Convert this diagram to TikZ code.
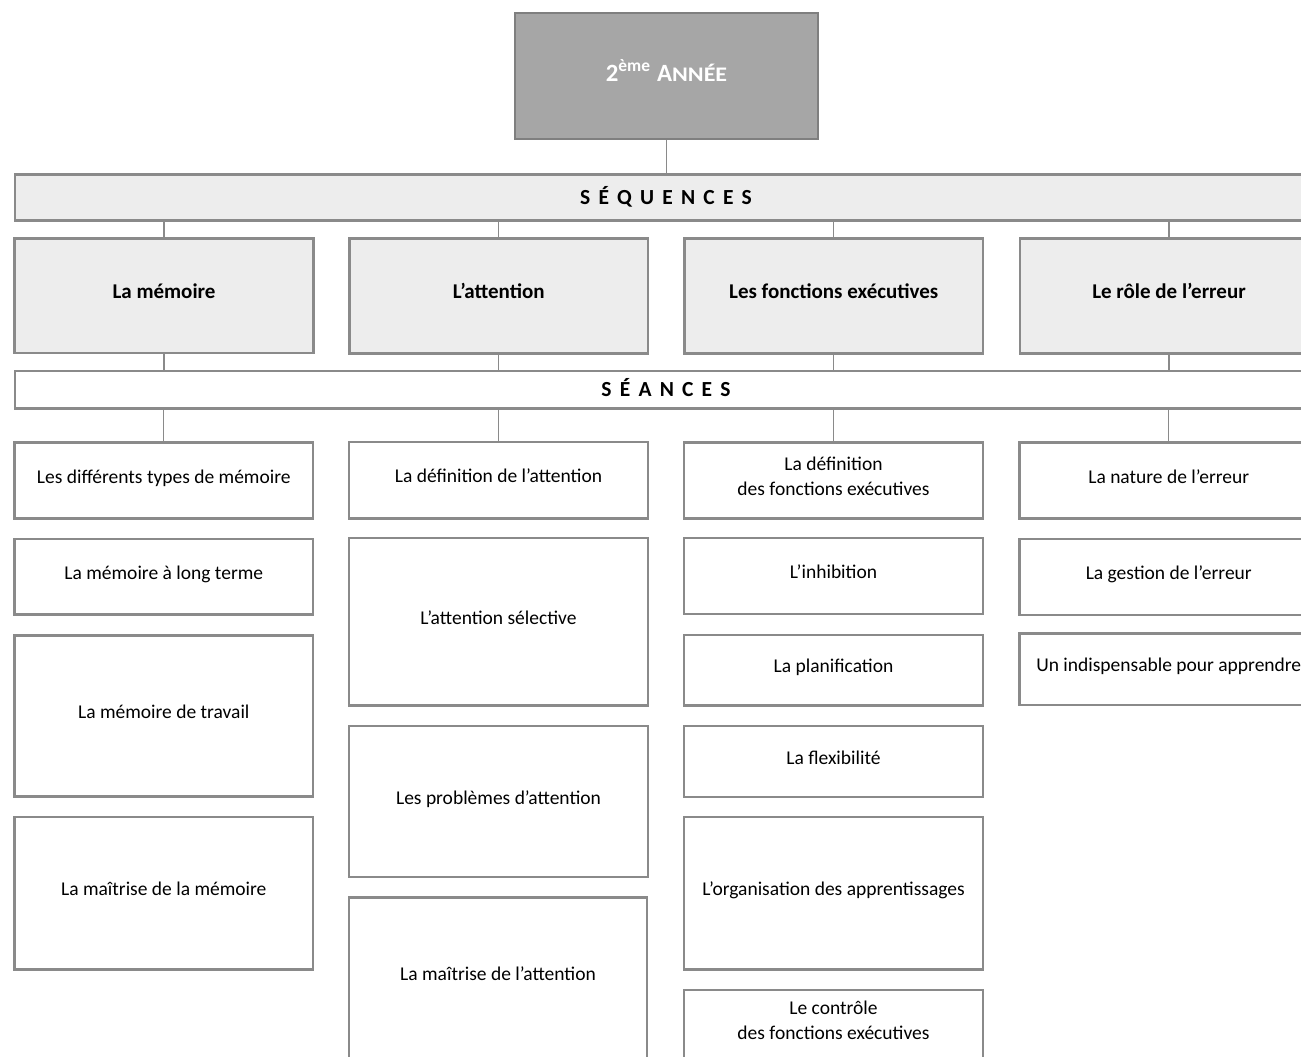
\documentclass[tikz,border=0pt]{standalone}
\usepackage{fontspec}
\usepackage{graphicx}
\setmainfont{Carlito}
\definecolor{bord}{HTML}{8A8A8A}
\definecolor{lightfill}{HTML}{EDEDED}
\definecolor{titlefill}{HTML}{A6A6A6}
\definecolor{titlebord}{HTML}{7F7F7F}
\newcommand\lst{\rule[-0.482em]{0pt}{1.231em}}
\newcommand\gp{\kern8.2pt}
\newcommand\mkbox[7]{\node[#1, minimum width={(#5)-(#3)}, minimum height={(#6)-(#4)}] (#2) at ({((#3)+(#5))/2},{((#4)+(#6))/2}) {#7};}
\tikzset{
  plainbox/.style={draw=bord, line width=2.2pt, fill=white, inner sep=0pt, align=center,
    font=\fontsize{19.5}{24}\selectfont, text=black},
  seqbox/.style={plainbox, fill=lightfill, font=\bfseries\fontsize{21}{26}\selectfont},
  barbox/.style={plainbox, text height=13.5pt, text depth=0pt, font=\bfseries\fontsize{21.5}{26}\selectfont},
  titlebox/.style={draw=titlebord, fill=titlefill, line width=2.2pt, text=white, inner sep=0pt,
    text height=16pt, text depth=4.6pt, font=\bfseries\fontsize{24.8}{30}\selectfont},
  conn/.style={draw=bord, line width=1.4pt}
}
\begin{document}
\begin{tikzpicture}[x=1pt,y=-1pt]
\useasboundingbox (0,0) rectangle (1301,1057);
\clip (0,0) rectangle (1301,1057);
\fill[white] (0,0) rectangle (1301,1057);

% title and bars
\mkbox{titlebox}{title}{515}{13}{818}{139}{2\raisebox{10pt}{\fontsize{17.4}{20}\selectfont ème}\hspace{7pt}A\scalebox{1.16}[1]{\fontsize{20.7}{24}\selectfont NNÉE}}
\mkbox{barbox, fill=lightfill}{seqbar}{15}{174.5}{1317}{220.5}{S\gp É\gp Q\gp U\gp E\gp N\gp C\gp E\gp S}
\mkbox{seqbox}{s1}{14.5}{238.5}{313.5}{353}{\lst La mémoire}
\mkbox{seqbox}{s2}{349.5}{238.5}{648}{353.5}{\lst L’attention}
\mkbox{seqbox}{s3}{684.5}{238.5}{983}{353.5}{\lst Les fonctions exécutives}
\mkbox{seqbox}{s4}{1020}{238.5}{1318}{353.5}{\lst Le rôle de l’erreur}
\mkbox{barbox}{seabar}{15}{371}{1317}{408.5}{S\gp É\gp A\gp N\gp C\gp E\gp S}

% column 1
\mkbox{plainbox}{a1}{14.5}{442.5}{313}{518.5}{\lst Les différents types de mémoire}
\mkbox{plainbox}{a2}{14.5}{539}{313}{614.5}{\lst La mémoire à long terme}
\mkbox{plainbox}{a3}{14.5}{635.5}{313}{796.5}{\lst La mémoire de travail}
\mkbox{plainbox}{a4}{14.5}{817}{313}{969.5}{\lst La maîtrise de la mémoire}

% column 2
\mkbox{plainbox}{b1}{349}{442}{648}{518.5}{\lst La définition de l’attention}
\mkbox{plainbox}{b2}{349}{538}{648}{705.5}{\lst L’attention sélective}
\mkbox{plainbox}{b3}{349}{726}{648}{877}{\lst Les problèmes d’attention}
\mkbox{plainbox}{b4}{349}{897.5}{647}{1062}{\rule[-12pt]{0pt}{24pt}La maîtrise de l’attention}

% column 3
\mkbox{plainbox}{c1}{684}{442.5}{983}{518.5}{\lst La définition\\\lst des fonctions exécutives}
\mkbox{plainbox}{c2}{684}{538}{983}{614}{\lst L’inhibition}
\mkbox{plainbox}{c3}{684}{635}{983}{705.5}{\lst La planification}
\mkbox{plainbox}{c4}{684}{726}{983}{797}{\lst La flexibilité}
\mkbox{plainbox}{c5}{684}{817}{983}{969.5}{\lst L’organisation des apprentissages}
\mkbox{plainbox}{c6}{684}{990}{983}{1058.5}{\lst Le contrôle\\\lst des fonctions exécutives}

% column 4
\mkbox{plainbox}{d1}{1019.5}{442.5}{1318}{518.5}{\lst La nature de l’erreur}
\mkbox{plainbox}{d2}{1019.5}{539}{1318}{615}{\lst La gestion de l’erreur}
\mkbox{plainbox}{d3}{1019.5}{633.5}{1318}{705}{\lst Un indispensable pour apprendre}

% connectors
\draw[conn] (title.south) -- (title.south |- seqbar.north);
\foreach \s in {s1,s2,s3,s4} {
  \draw[conn] (seqbar.south -| \s.north) -- (\s.north);
  \draw[conn] (\s.south) -- (\s.south |- seabar.north);
}
\foreach \s in {a1,b1,c1,d1} {
  \draw[conn] (seabar.south -| \s.north) -- (\s.north);
}
\end{tikzpicture}
\end{document}
